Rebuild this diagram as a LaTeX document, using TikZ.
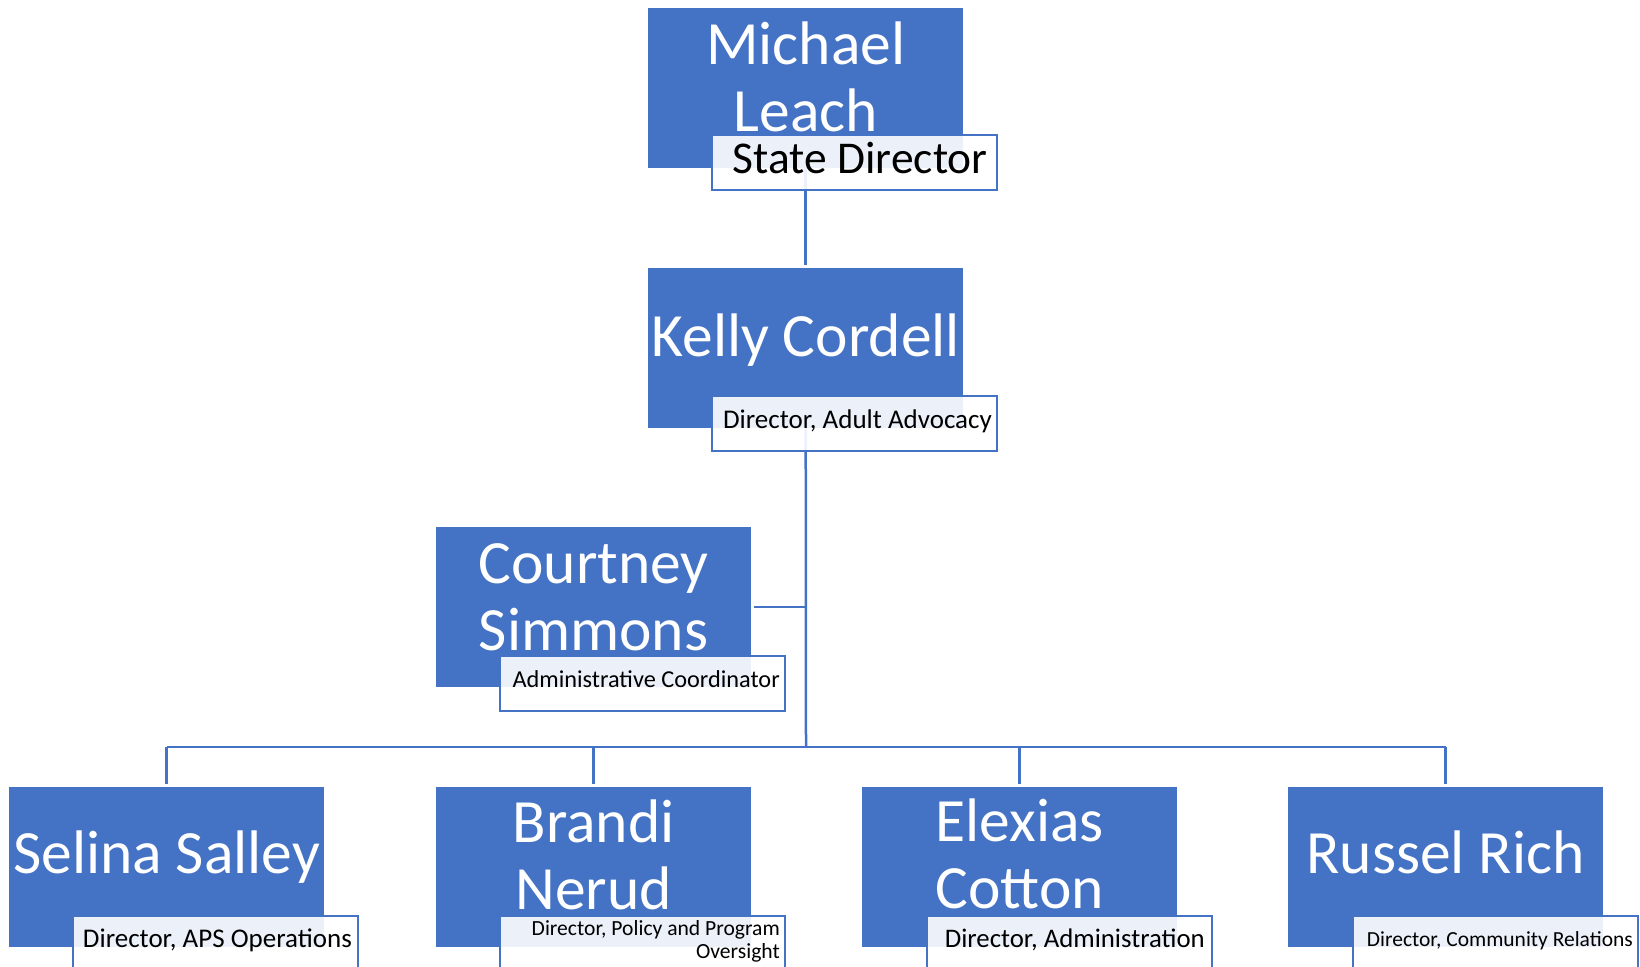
\documentclass[tikz,border=0pt]{standalone}
\usepackage{fontspec}
\setmainfont{Carlito}
\definecolor{boxblue}{HTML}{4472C4}
\begin{document}
\begin{tikzpicture}[x=1pt,y=-1pt,
  namebox/.style={fill=boxblue, draw=none, minimum width=315pt, minimum height=160pt, inner sep=0pt, anchor=north west},
  labelbox/.style={fill=white, fill opacity=0.9, draw=boxblue, line width=2pt, minimum width=285pt, minimum height=55pt, inner sep=0pt, anchor=north west},
  nametext/.style={text=white, font=\fontsize{61.5}{67}\selectfont, inner sep=0pt, anchor=base},
  labeltext/.style={text=black, inner sep=0pt, anchor=base east},
  conn/.style={draw=boxblue, line width=2.5pt}
]
\useasboundingbox (0,0) rectangle (1640,966);

% blue boxes
\node[namebox] (ml) at (648,8) {};
\node[namebox] (kc) at (648,268) {};
\node[namebox] (cs) at (436,527) {};
\node[namebox] (ss) at (9,787) {};
\node[namebox] (bn) at (436,787) {};
\node[namebox] (ec) at (862,787) {};
\node[namebox] (rr) at (1288,787) {};

% connectors
\coordinate (bus) at (806,747);
\draw[conn, shorten >=3pt] (ml.south) -- (kc.north);
\draw[conn] (kc.south) -- (bus);
\draw[conn, shorten <=3pt] (cs.east) -- (cs.east -| bus);
\draw[conn] (bus -| ss.north) -- (bus -| rr.north);
\foreach \n in {ss,bn,ec,rr}{
  \draw[conn, shorten >=3pt] (bus -| \n.north) -- (\n.north);
}

% names
\node[nametext] (mlt) at ([yshift=-56pt]ml.north) {\begin{tabular}[t]{@{}c@{}}Michael\\Leach\end{tabular}};
\node[nametext] (kct) at ([yshift=-88pt]kc.north) {Kelly Cordell};
\node[nametext] (cst) at ([yshift=-56pt]cs.north) {\begin{tabular}[t]{@{}c@{}}Courtney\\Simmons\end{tabular}};
\node[nametext] (sst) at ([yshift=-86pt]ss.north) {Selina Salley};
\node[nametext] (bnt) at ([yshift=-55pt]bn.north) {\begin{tabular}[t]{@{}c@{}}Brandi\\Nerud\end{tabular}};
\node[nametext] (ect) at ([yshift=-54pt]ec.north) {\begin{tabular}[t]{@{}c@{}}Elexias\\Cotton\end{tabular}};
\node[nametext] (rrt) at ([yshift=-86pt]rr.north) {Russel Rich};

% label boxes
\node[labelbox] (mll) at (711,134) {};
\node[labelbox] (kcl) at (711,395) {};
\node[labelbox] (csl) at (499,655) {};
\node[labelbox] (ssl) at (72,915) {};
\node[labelbox] (bnl) at (499,915) {};
\node[labelbox] (ecl) at (926,915) {};
\node[labelbox] (rrl) at (1352,915) {};

% label texts
\node[labeltext, font=\fontsize{45.5}{52}\selectfont] at ([xshift=-10pt,yshift=-39pt]mll.north east) {State Director};
\node[labeltext, font=\fontsize{27}{31}\selectfont] at ([xshift=-6pt,yshift=-33pt]kcl.north east) {Director, Adult Advocacy};
\node[labeltext, font=\fontsize{24.3}{29}\selectfont] at ([xshift=-6pt,yshift=-32pt]csl.north east) {Administrative Coordinator};
\node[labeltext, font=\fontsize{27}{31}\selectfont] at ([xshift=-7pt,yshift=-32pt]ssl.north east) {Director, APS Operations};
\node[labeltext, font=\fontsize{21.6}{23.5}\selectfont, anchor=base east] at ([xshift=-6pt,yshift=-20pt]bnl.north east) {\begin{tabular}[t]{@{}r@{}}Director, Policy and Program\\Oversight\end{tabular}};
\node[labeltext, font=\fontsize{26.8}{31}\selectfont] at ([xshift=-8pt,yshift=-32pt]ecl.north east) {Director, Administration};
\node[labeltext, font=\fontsize{21.5}{25}\selectfont] at ([xshift=-6pt,yshift=-31pt]rrl.north east) {Director, Community Relations};
\end{tikzpicture}
\end{document}
